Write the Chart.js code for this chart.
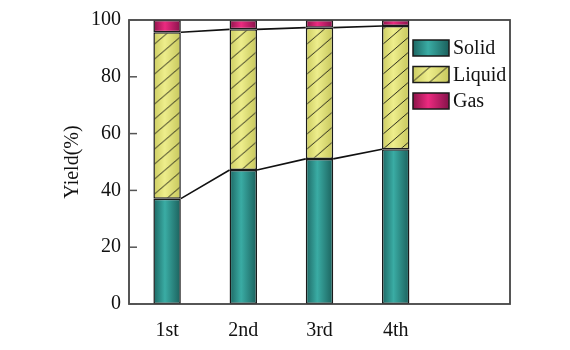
<!DOCTYPE html>
<html>
<head>
<meta charset="utf-8">
<script src="https://cdn.jsdelivr.net/npm/chart.js@4.4.1/dist/chart.umd.min.js"></script>
<style>
  body { margin: 0; background: #fff; }
  #wrap { width: 570px; height: 350px; }
</style>
</head>
<body>
<div id="wrap"><canvas id="yieldChart" width="570" height="350"></canvas></div>
<script>
// product yields per run (%)
const runs = ["1st", "2nd", "3rd", "4th", ""];
const solid = [37.1, 47.2, 51.1, 54.5];
const liquid = [58.6, 49.5, 46.2, 43.4];
const gas = [4.3, 3.3, 2.7, 2.1];
const seriesNames = ["Solid", "Liquid", "Gas"];

const BAR_PCT = 0.36;
const serif = "'Liberation Serif', 'Times New Roman', serif";

const TEAL = ["#1d6763", "#3aaca4", "#1b605c"];
const YELLOW = ["#cccc62", "#eeee8c", "#c8c85e"];
const PINK = ["#8c1449", "#ec2a80", "#86124a"];

function barEdges(chart, i) {
  const xs = chart.scales.x;
  const w = xs.width / runs.length * BAR_PCT;
  const cx = xs.getPixelForValue(i);
  return { left: cx - w / 2, width: w };
}

function hGradient(c, left, width, stops) {
  const g = c.createLinearGradient(left, 0, left + width, 0);
  g.addColorStop(0, stops[0]);
  g.addColorStop(0.42, stops[1]);
  g.addColorStop(1, stops[2]);
  return g;
}

// horizontal shading so the bars look a bit rounded
function shaded(stops) {
  return function (ctx) {
    const chart = ctx.chart;
    if (!chart.chartArea) return stops[1];
    const b = barEdges(chart, ctx.dataIndex);
    if (!isFinite(b.left) || !isFinite(b.width)) return stops[1];
    return hGradient(chart.ctx, b.left, b.width, stops);
  };
}

// yellow fill with "/" hatching
function hatchTile(w, stops) {
  const P = 15, s = 0.86;
  const c = document.createElement("canvas");
  c.width = w; c.height = P;
  const g = c.getContext("2d");
  g.fillStyle = hGradient(g, 0, w, stops);
  g.fillRect(0, 0, w, P);
  g.strokeStyle = "#2b2b1c";
  g.lineWidth = 1;
  for (let k = -1; k <= 3; k++) {
    g.beginPath();
    g.moveTo(0, k * P);
    g.lineTo(w, k * P - s * w);
    g.stroke();
  }
  return c;
}

function hatched(ctx) {
  const chart = ctx.chart;
  if (!chart.chartArea) return YELLOW[1];
  const b = barEdges(chart, ctx.dataIndex);
  if (!isFinite(b.left) || !isFinite(b.width) || b.width < 1) return YELLOW[1];
  const p = chart.ctx.createPattern(hatchTile(Math.round(b.width), YELLOW), "repeat");
  p.setTransform(new DOMMatrix([1, 0, 0, 1, b.left, 0]));
  return p;
}

// lines joining the tops of the solid and liquid segments
const tieLines = {
  id: "tieLines",
  afterDatasetsDraw(chart) {
    const c = chart.ctx;
    const a = chart.chartArea;
    c.save();
    c.strokeStyle = "#111";
    c.lineWidth = 1.6;
    [0, 1].forEach(di => {
      const bars = chart.getDatasetMeta(di).data;
      c.beginPath();
      for (let j = 0; j < bars.length - 1; j++) {
        const p = bars[j].getProps(["x", "y", "width"], true);
        const q = bars[j + 1].getProps(["x", "y", "width"], true);
        c.moveTo(p.x + p.width / 2, p.y);
        c.lineTo(q.x - q.width / 2, q.y);
      }
      c.stroke();
    });

    // plot frame
    c.strokeStyle = "#444";
    c.lineWidth = 1.8;
    c.strokeRect(a.left, a.top, a.right - a.left, a.bottom - a.top);

    // inward tick marks on the y axis
    const ys = chart.scales.y;
    c.lineWidth = 1.5;
    c.strokeStyle = "#555";
    ys.ticks.forEach(t => {
      const y = ys.getPixelForValue(t.value);
      c.beginPath();
      c.moveTo(a.left, y);
      c.lineTo(a.left + 8, y);
      c.stroke();
    });
    c.restore();
  }
};

// legend inside the plot, top right
const boxLegend = {
  id: "boxLegend",
  afterDraw(chart) {
    const c = chart.ctx;
    const x0 = 413, y0 = 40, bw = 36, bh = 16, gap = 26.5;
    c.save();
    c.font = "20px " + serif;
    c.textBaseline = "middle";
    seriesNames.forEach((name, i) => {
      const y = y0 + i * gap;
      if (i === 1) {
        const p = c.createPattern(hatchTile(bw, YELLOW), "repeat");
        p.setTransform(new DOMMatrix([1, 0, 0, 1, x0, y]));
        c.fillStyle = p;
      } else {
        c.fillStyle = hGradient(c, x0, bw, i === 0 ? TEAL : PINK);
      }
      c.fillRect(x0, y, bw, bh);
      c.strokeStyle = "#1a1a1a";
      c.lineWidth = 1.5;
      c.strokeRect(x0, y, bw, bh);
      c.fillStyle = "#111";
      c.fillText(name, x0 + bw + 4, y + bh / 2 + 1);
    });
    c.restore();
  }
};

const barStyle = {
  borderColor: "#1a1a1a",
  borderWidth: 1.5,
  borderSkipped: false,
  barPercentage: BAR_PCT,
  categoryPercentage: 1
};

new Chart(document.getElementById("yieldChart"), {
  type: "bar",
  data: {
    labels: runs,
    datasets: [
      Object.assign({ label: seriesNames[0], data: solid, backgroundColor: shaded(TEAL) }, barStyle),
      Object.assign({ label: seriesNames[1], data: liquid, backgroundColor: hatched }, barStyle),
      Object.assign({ label: seriesNames[2], data: gas, backgroundColor: shaded(PINK) }, barStyle)
    ]
  },
  options: {
    responsive: false,
    animation: false,
    layout: { padding: { left: 57, right: 60, top: 20, bottom: 0 } },
    plugins: {
      legend: { display: false },
      tooltip: { enabled: false }
    },
    scales: {
      x: {
        stacked: true,
        grid: { display: false, drawTicks: false },
        border: { display: false },
        ticks: { color: "#111", padding: 15, font: { family: serif, size: 20 } },
        afterFit(s) { s.height = 46; }
      },
      y: {
        stacked: true,
        min: 0,
        max: 100,
        grid: { display: false, drawTicks: false },
        border: { display: false },
        ticks: { stepSize: 20, color: "#111", padding: 8, font: { family: serif, size: 20 } },
        title: { display: true, text: "Yield(%)", color: "#111", padding: { top: 4, bottom: 0 }, font: { family: serif, size: 20 } },
        afterFit(s) { s.width = 72; }
      }
    }
  },
  plugins: [tieLines, boxLegend]
});
</script>
</body>
</html>
